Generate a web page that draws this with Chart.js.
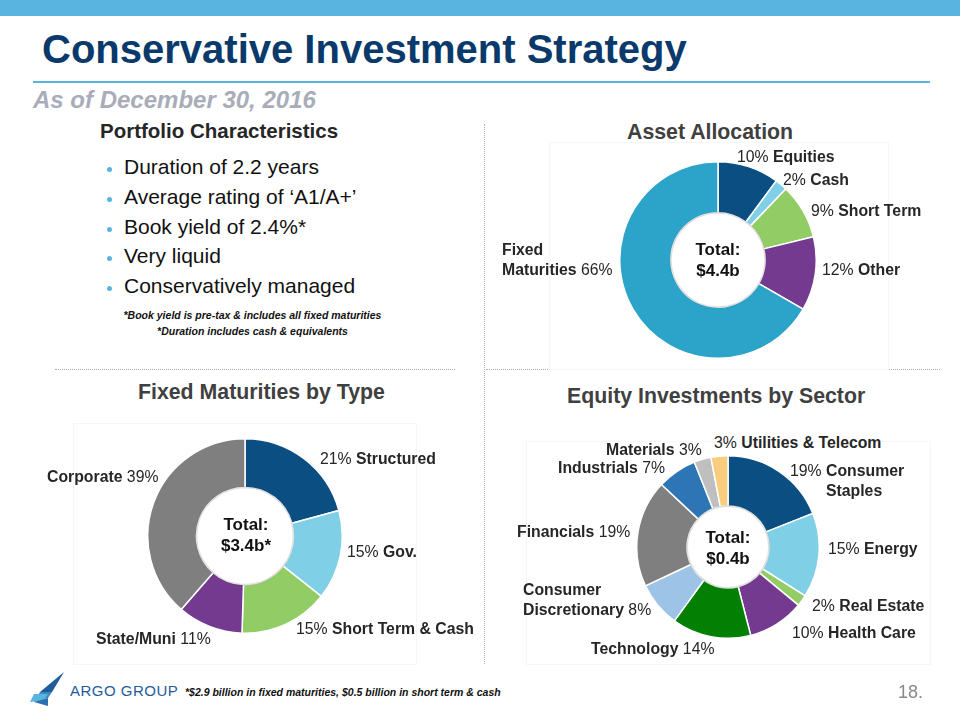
<!DOCTYPE html>
<html>
<head>
<meta charset="utf-8">
<script src="https://cdn.jsdelivr.net/npm/chart.js@4"></script>
<style>
  body { margin: 0; width: 960px; height: 720px; position: relative; background: #fff;
         font-family: "Liberation Sans", Arial, sans-serif; color: #262626; overflow: hidden; }
  .abs { position: absolute; white-space: nowrap; }
  .lbl { position: absolute; white-space: nowrap; font-size: 15.8px; line-height: 20px; color: #262626; }
  .lbl b { font-weight: bold; }
  .ctr { position: absolute; font-size: 17px; font-weight: bold; line-height: 21px; text-align: center; color: #111; }
  .sec { position: absolute; font-size: 21.3px; font-weight: bold; color: #404040; white-space: nowrap; }
  canvas { position: absolute; }
  .box { position: absolute; border: 1px solid #f6f6f6; }
</style>
</head>
<body>
<div class="abs" style="left:0;top:0;width:960px;height:16px;background:#5ab4e0"></div>
<div class="abs" style="left:42px;top:27px;font-size:40px;font-weight:bold;color:#0a3a6b">Conservative Investment Strategy</div>
<div class="abs" style="left:33px;top:81px;width:897px;height:2px;background:#5ab4e0"></div>
<div class="abs" style="left:33px;top:86px;font-size:24px;font-weight:bold;font-style:italic;color:#a9adb9">As of December 30, 2016</div>

<!-- dividers -->
<div class="abs" style="left:484px;top:124px;height:540px;border-left:1px dotted #b0b0b0"></div>
<div class="abs" style="left:55px;top:369px;width:400px;border-top:1px dotted #b0b0b0"></div>
<div class="abs" style="left:486px;top:369px;width:454px;border-top:1px dotted #b0b0b0"></div>

<!-- portfolio characteristics -->
<div class="abs" style="left:100px;top:119px;font-size:20.5px;font-weight:bold;color:#262626">Portfolio Characteristics</div>
<div id="bullets"></div>
<div class="abs" style="left:0;width:505px;top:309px;text-align:center;font-size:10.5px;font-weight:bold;font-style:italic;color:#111">*Book yield is pre-tax &amp; includes all fixed maturities</div>
<div class="abs" style="left:0;width:505px;top:325px;text-align:center;font-size:10.5px;font-weight:bold;font-style:italic;color:#111">*Duration includes cash &amp; equivalents</div>

<!-- section titles -->
<div class="sec" style="left:627px;top:120px">Asset Allocation</div>
<div class="sec" style="left:138px;top:380px">Fixed Maturities by Type</div>
<div class="sec" style="left:567px;top:384px">Equity Investments by Sector</div>

<div class="box" style="left:549px;top:142px;width:338px;height:226px"></div>
<div class="box" style="left:73px;top:423px;width:342px;height:240px"></div>
<div class="box" style="left:526px;top:441px;width:403px;height:222px"></div>

<canvas id="assetChart" width="198" height="198" style="left:619px;top:161px"></canvas>
<canvas id="fixedChart" width="196" height="196" style="left:147px;top:438px"></canvas>
<canvas id="equityChart" width="184" height="184" style="left:636px;top:455px"></canvas>

<!-- centre totals -->
<div class="ctr" style="left:668px;width:100px;top:239px">Total:<br>$4.4b</div>
<div class="ctr" style="left:196px;width:100px;top:514px">Total:<br>$3.4b*</div>
<div class="ctr" style="left:678px;width:100px;top:527px">Total:<br>$0.4b</div>

<div id="labels"></div>

<!-- footer -->
<svg class="abs" style="left:18px;top:672px" width="50" height="36" viewBox="0 0 50 36">
  <polygon points="46,0 22,20 34,20" fill="#1f5c99"/>
  <polygon points="34,20 22,20 16,30 30,26" fill="#3f86c4"/>
  <polygon points="16,22 30,22 26,28 12,30" fill="#5ab4e0"/>
  <polygon points="30,26 16,30 30,34" fill="#2a70b0"/>
</svg>
<div class="abs" style="left:70px;top:682px;font-size:15px;color:#1f5c99;letter-spacing:0.5px">ARGO GROUP</div>
<div class="abs" style="left:185px;top:686px;font-size:10.5px;font-weight:bold;font-style:italic;color:#111">*$2.9 billion in fixed maturities, $0.5 billion in short term &amp; cash</div>
<div class="abs" style="left:898px;top:682px;font-size:18px;color:#888">18.</div>

<script>
// ---- data ----
const bulletItems = ["Duration of 2.2 years", "Average rating of \u2018A1/A+\u2019", "Book yield of 2.4%*", "Very liquid", "Conservatively managed"];

const assetCategories = ["Equities", "Cash", "Short Term", "Other", "Fixed Maturities"];
const assetValues = [10, 2, 9, 12, 66];
const assetColors = ["#0b4f82", "#7fcfe6", "#92cc64", "#733a8f", "#2ca3c8"];

const fixedCategories = ["Structured", "Gov.", "Short Term & Cash", "State/Muni", "Corporate"];
const fixedValues = [21, 15, 15, 11, 39];
const fixedColors = ["#0b4f82", "#7fcfe6", "#92cc64", "#733a8f", "#7f7f7f"];

const equityCategories = ["Consumer Staples", "Energy", "Real Estate", "Health Care", "Technology",
  "Consumer Discretionary", "Financials", "Industrials", "Materials", "Utilities & Telecom"];
const equityValues = [19, 15, 2, 10, 14, 8, 19, 7, 3, 3];
const equityColors = ["#0b4f82", "#7fcfe6", "#92cc64", "#733a8f", "#038003",
  "#9dc3e6", "#7f7f7f", "#2e75b6", "#bfbfbf", "#f9cd7d"];

// bullets
let bhtml = "";
bulletItems.forEach((t, i) => {
  const top = 158 + i * 29.8;
  bhtml += '<div class="abs" style="left:107px;top:' + (top + 9) + 'px;width:5px;height:5px;border-radius:50%;background:#5ab4e0"></div>';
  bhtml += '<div class="abs" style="left:124px;top:' + (top - 3) + 'px;font-size:21px;color:#111">' + t + '</div>';
});
document.getElementById("bullets").innerHTML = bhtml;

// labels: [text html, left, top]
function pct(v) { return v + "%"; }
const labelSpots = [
  [pct(assetValues[0]) + " <b>" + assetCategories[0] + "</b>", 737, 147],
  [pct(assetValues[1]) + " <b>" + assetCategories[1] + "</b>", 783, 170],
  [pct(assetValues[2]) + " <b>" + assetCategories[2] + "</b>", 811, 201],
  [pct(assetValues[3]) + " <b>" + assetCategories[3] + "</b>", 822, 260],
  ["<b>Fixed</b><br><b>Maturities</b> " + pct(assetValues[4]), 502, 240],

  [pct(fixedValues[0]) + " <b>" + fixedCategories[0] + "</b>", 320, 449],
  [pct(fixedValues[1]) + " <b>" + fixedCategories[1] + "</b>", 347, 542],
  [pct(fixedValues[2]) + " <b>Short Term &amp; Cash</b>", 296, 619],
  ["<b>" + fixedCategories[3] + "</b> " + pct(fixedValues[3]), 96, 629],
  ["<b>" + fixedCategories[4] + "</b> " + pct(fixedValues[4]), 47, 467],

  [pct(equityValues[9]) + " <b>Utilities &amp; Telecom</b>", 714, 433],
  ["<b>" + equityCategories[8] + "</b> " + pct(equityValues[8]), 606, 440],
  ["<b>" + equityCategories[7] + "</b> " + pct(equityValues[7]), 558, 458],
  [pct(equityValues[0]) + " <b>Consumer</b><br><span style='padding-left:36px'><b>Staples</b></span>", 790, 461],
  ["<b>" + equityCategories[6] + "</b> " + pct(equityValues[6]), 517, 522],
  [pct(equityValues[1]) + " <b>" + equityCategories[1] + "</b>", 828, 539],
  ["<b>Consumer</b><br><b>Discretionary</b> " + pct(equityValues[5]), 523, 580],
  [pct(equityValues[2]) + " <b>" + equityCategories[2] + "</b>", 812, 596],
  [pct(equityValues[3]) + " <b>" + equityCategories[3] + "</b>", 792, 623],
  ["<b>" + equityCategories[4] + "</b> " + pct(equityValues[4]), 591, 639]
];
document.getElementById("labels").innerHTML = labelSpots
  .map(s => '<div class="lbl" style="left:' + s[1] + 'px;top:' + s[2] + 'px">' + s[0] + '</div>').join("");

// inner shadow ring around the hole
const holeShadow = {
  id: "holeShadow",
  afterDatasetsDraw(chart) {
    const { ctx } = chart;
    const arc = chart.getDatasetMeta(0).data[0];
    ctx.save();
    ctx.beginPath();
    ctx.arc(arc.x, arc.y, arc.innerRadius, 0, Math.PI * 2);
    ctx.strokeStyle = "rgba(0,0,0,0.12)";
    ctx.lineWidth = 2;
    ctx.stroke();
    ctx.restore();
  }
};

function createDoughnut(id, labels, values, colors, cutout) {
  new Chart(document.getElementById(id), {
    type: "doughnut",
    data: {
      labels: labels,
      datasets: [{
        data: values,
        backgroundColor: colors,
        borderColor: "#ffffff",
        borderWidth: 1.5,
      }],
    },
    options: {
      responsive: false,
      animation: false,
      cutout: cutout,
      layout: { padding: 0 },
      plugins: { legend: { display: false }, tooltip: { enabled: false } },
    },
    plugins: [holeShadow],
  });
}

createDoughnut("assetChart", assetCategories, assetValues, assetColors, "48%");
createDoughnut("fixedChart", fixedCategories, fixedValues, fixedColors, "50%");
createDoughnut("equityChart", equityCategories, equityValues, equityColors, "45%");
</script>
</body>
</html>
